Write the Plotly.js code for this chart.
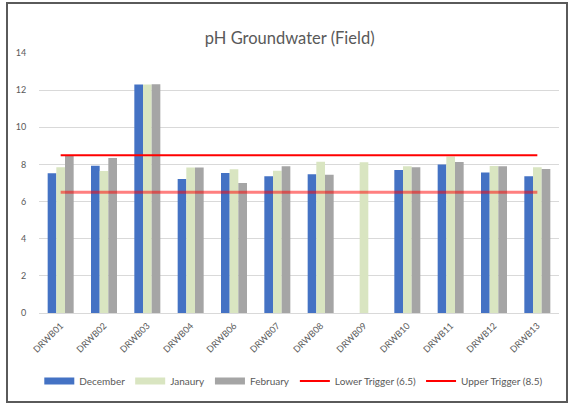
<!DOCTYPE html>
<html>
<head>
<meta charset="utf-8">
<script src="https://cdn.plot.ly/plotly-3.0.1.min.js"></script>
<style>
html,body{margin:0;padding:0;background:#fff;}
#frame{position:absolute;left:6px;top:2px;width:558px;height:397px;border:2px solid #5a5a5a;box-sizing:content-box;}
#chart{position:absolute;left:0;top:0;width:568px;height:404px;}
</style>
</head>
<body>
<div id="chart"></div>
<div id="frame"></div>
<script>
const categories = ["DRWB01","DRWB02","DRWB03","DRWB04","DRWB06","DRWB07","DRWB08","DRWB09","DRWB10","DRWB11","DRWB12","DRWB13"];
const december = [7.52, 7.93, 12.3, 7.22, 7.54, 7.36, 7.47, null, 7.7, 8.0, 7.57, 7.36];
const january  = [7.85, 7.65, 12.3, 7.83, 7.74, 7.66, 8.15, 8.12, 7.9, 8.43, 7.92, 7.85];
const february = [8.45, 8.35, 12.32, 7.83, 7.0, 7.9, 7.45, null, 7.85, 8.13, 7.9, 7.75];
const lowerTrigger = [6.5, 6.5, 6.5, 6.5, 6.5, 6.5, 6.5, 6.5, 6.5, 6.5, 6.5, 6.5];
const upperTrigger = [8.5, 8.5, 8.5, 8.5, 8.5, 8.5, 8.5, 8.5, 8.5, 8.5, 8.5, 8.5];
const yTicks = [0, 2, 4, 6, 8, 10, 12, 14];

const colDec = "#4472C4", colJan = "#D9E5C1", colFeb = "#A5A5A5";
const font = "Lato, 'Open Sans', sans-serif";

const traces = [
  {type:"bar", name:"December", x:categories, y:december, marker:{color:colDec}, showlegend:false},
  {type:"bar", name:"Janaury", x:categories, y:january, marker:{color:colJan}, showlegend:false},
  {type:"bar", name:"February", x:categories, y:february, marker:{color:colFeb}, showlegend:false},
  {type:"scatter", mode:"lines", name:"Lower Trigger (6.5)", x:categories, y:lowerTrigger,
   line:{color:"rgba(255,0,0,0.5)", width:3}, showlegend:false},
  {type:"scatter", mode:"lines", name:"Upper Trigger (8.5)", x:categories, y:upperTrigger,
   line:{color:"#FF0000", width:2}, showlegend:false},
  // legend proxies
  {type:"scatter", mode:"lines", name:"December", x:[null], y:[null], line:{color:colDec, width:7}},
  {type:"scatter", mode:"lines", name:"Janaury", x:[null], y:[null], line:{color:colJan, width:7}},
  {type:"scatter", mode:"lines", name:"February", x:[null], y:[null], line:{color:colFeb, width:7}},
  {type:"scatter", mode:"lines", name:"Lower Trigger (6.5)", x:[null], y:[null], line:{color:"#FF0000", width:2}},
  {type:"scatter", mode:"lines", name:"Upper Trigger (8.5)", x:[null], y:[null], line:{color:"#FF0000", width:2}}
];

const layout = {
  width:568, height:404,
  margin:{l:39, r:9, t:53, b:91},
  paper_bgcolor:"#fff", plot_bgcolor:"#fff",
  font:{family:font, color:"#595959", size:9},
  title:{text:"pH Groundwater (Field)", font:{family:font, size:16.5, color:"#595959"}, x:0.51, xanchor:"center", y:0.905, yanchor:"middle"},
  barmode:"group", bargap:0.4, bargroupgap:0,
  xaxis:{type:"category", tickangle:-45, showgrid:false, showline:true, linecolor:"#d9d9d9", linewidth:1,
         ticks:"outside", ticklen:3, tickcolor:"rgba(0,0,0,0)", tickfont:{size:9, color:"#595959"}, fixedrange:true},
  yaxis:{range:[0,14], tickvals:yTicks, showgrid:true, gridcolor:"#d9d9d9", gridwidth:1, zeroline:false,
         ticks:"outside", ticklen:10, tickcolor:"rgba(0,0,0,0)", tickfont:{size:9, color:"#595959"}, fixedrange:true},
  legend:{orientation:"h", x:0.49, xanchor:"center", y:-0.262, yanchor:"middle", font:{size:10, color:"#595959"},
          itemwidth:30, tracegroupgap:0, bgcolor:"rgba(0,0,0,0)"},
  showlegend:true
};

Plotly.newPlot("chart", traces, layout, {displayModeBar:false, staticPlot:true});
</script>
</body>
</html>
